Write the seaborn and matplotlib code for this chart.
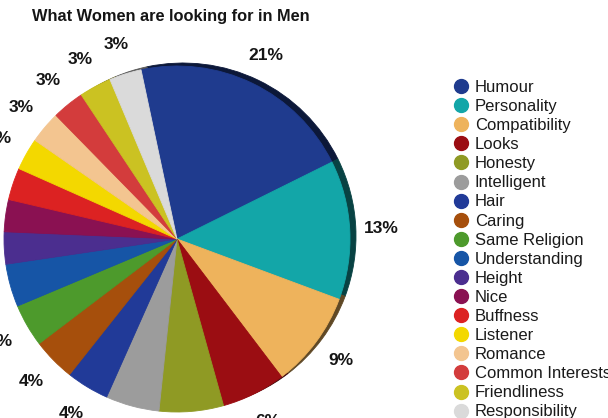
import matplotlib
matplotlib.use("Agg")
import matplotlib.pyplot as plt
from matplotlib.lines import Line2D
import seaborn as sns

# Survey answers: share of responses (%) for each trait
categories = [
    "Humour", "Personality", "Compatibility", "Looks", "Honesty",
    "Intelligent", "Hair", "Caring", "Same Religion", "Understanding",
    "Height", "Nice", "Buffness", "Listener", "Romance",
    "Common Interests", "Friendliness", "Responsibility",
]
shares = [21, 13, 9, 6, 6, 5, 4, 4, 4, 4, 3, 3, 3, 3, 3, 3, 3, 3]
slice_colors = [
    "#1f3b8e", "#13a6a8", "#eeb35c", "#9b0d12", "#8f9a24",
    "#9c9c9c", "#213a98", "#a64f0c", "#4d9a2c", "#1655a6",
    "#4b2e8f", "#8a1152", "#dc2222", "#f3d800", "#f3c590",
    "#d33c3c", "#cbc222", "#dadada",
]
title = "What Women are looking for in Men"

sns.set_theme(style="white")
plt.rcParams["font.family"] = ["Liberation Sans", "DejaVu Sans"]

W, H = 608, 418
fig = plt.figure(figsize=(W / 100, H / 100), dpi=100)
ax = fig.add_axes([0, 0, 1, 1])

palette = sns.color_palette(slice_colors)
rim = [tuple(v * 0.4 for v in c) for c in palette]

cx, cy, r = 177, H - 239, 173
start = 102

# darker copy behind, slightly shifted, gives the raised rim
back, _ = ax.pie(shares, colors=rim, startangle=start, counterclock=False,
                 center=(cx + 6, cy + 3), radius=r,
                 wedgeprops=dict(linewidth=0.6))
for w in back:
    w.set_edgecolor(w.get_facecolor())

front, _, _ = ax.pie(shares, colors=palette, startangle=start, counterclock=False,
                     center=(cx, cy), radius=r,
                     autopct=lambda p: f"{p:.0f}%", pctdistance=1.18,
                     textprops=dict(fontsize=12.5, fontweight="bold", color="#151515"),
                     wedgeprops=dict(linewidth=0.6))
for w in front:
    w.set_edgecolor(w.get_facecolor())

ax.set_xlim(0, W)
ax.set_ylim(0, H)
ax.set_aspect("equal")
ax.axis("off")

fig.text(171 / W, 1 - 17 / H, title, ha="center", va="center",
         fontsize=11.8, fontweight="bold", color="#151515")

handles = [Line2D([], [], marker="o", linestyle="", markersize=10,
                  markerfacecolor=c, markeredgecolor=c) for c in palette]
fig.legend(handles, categories, loc="upper left",
           bbox_to_anchor=(454 / W, 1 - 80 / H), frameon=False,
           fontsize=12, handlelength=0.8, handletextpad=0.45,
           labelspacing=0.245, borderpad=0, borderaxespad=0,
           labelcolor="#1a1a1a")

fig.savefig("out.png", dpi=100)
